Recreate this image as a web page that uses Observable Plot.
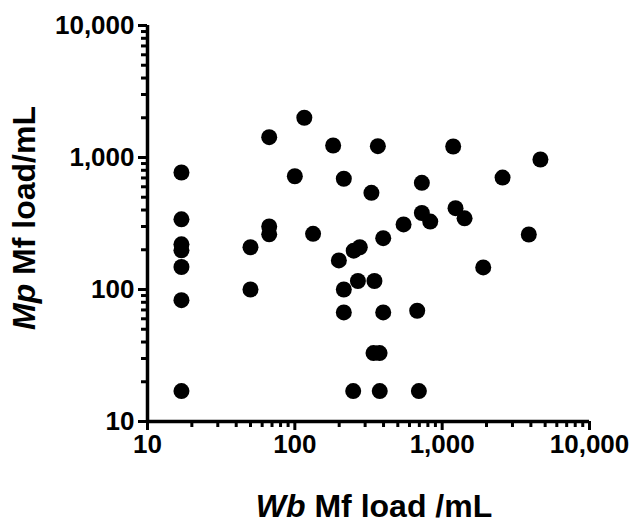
<!DOCTYPE html>
<html>
<head>
<meta charset="utf-8">
<script src="https://cdn.jsdelivr.net/npm/d3@7"></script>
<script src="https://cdn.jsdelivr.net/npm/@observablehq/plot@0.6"></script>
<style>
  html, body { margin: 0; padding: 0; background: #fff; }
  #chart { width: 630px; height: 529px; }
</style>
</head>
<body>
<div id="chart"></div>
<script>
// Wb Mf load/mL (x) and Mp Mf load/mL (y)
const wbLoad = [17, 17, 17, 17, 17, 17, 17,
  50, 50, 67, 67, 67, 100, 116, 133,
  182, 366, 1188, 4645, 215, 331, 728, 2570,
  728, 830, 1232, 1419, 547, 398, 3873,
  251, 276, 199, 1900, 268, 347, 215, 215,
  398, 677, 342, 376, 249, 377, 695];
const mpLoad = [770, 340, 220, 198, 148, 83, 17,
  209, 100, 1425, 300, 262, 721, 2000, 264,
  1233, 1218, 1212, 966, 690, 540, 643, 705,
  380, 327, 413, 346, 311, 245, 261,
  197, 209, 166, 147, 116, 116, 100, 67,
  67, 69, 33, 33, 17, 17, 17];

const majorTicks = [10, 100, 1000, 10000];
const minorMultipliers = [2, 3, 4, 5, 6, 7, 8, 9];
const minorTicks = majorTicks.slice(0, -1).flatMap(d => minorMultipliers.map(k => k * d));

const xTitle = [{text: "Wb", italic: true}, {text: " Mf load /mL", italic: false}];
const yTitle = [{text: "Mp", italic: true}, {text: " Mf load/mL", italic: false}];

const data = wbLoad.map((x, i) => ({x, y: mpLoad[i]}));

const font = "'Liberation Sans', Arial, Helvetica, sans-serif";

const plot = Plot.plot({
  width: 630,
  height: 529,
  marginLeft: 147,
  marginRight: 41,
  marginTop: 25,
  marginBottom: 108,
  style: {fontFamily: font, fontWeight: "bold", fontSize: "26px", color: "#000", background: "#fff", overflow: "visible"},
  x: {type: "log", domain: [10, 10000], axis: null},
  y: {type: "log", domain: [10, 10000], axis: null},
  marks: [
    Plot.axisX(minorTicks, {tickSize: 6, text: null, strokeWidth: 3, stroke: "#000", label: null}),
    Plot.axisY(minorTicks, {tickSize: 6, text: null, strokeWidth: 3, stroke: "#000", label: null}),
    Plot.axisX(majorTicks, {tickSize: 9, tickPadding: 4, tickFormat: d3.format(","), strokeWidth: 3, stroke: "#000", fill: "#000", fontSize: 26, fontWeight: "bold", fontFamily: font, label: null}),
    Plot.axisY(majorTicks, {tickSize: 9, tickPadding: 4, tickFormat: d3.format(","), strokeWidth: 3, stroke: "#000", fill: "#000", fontSize: 26, fontWeight: "bold", fontFamily: font, label: null}),
    Plot.ruleY([10], {stroke: "#000", strokeWidth: 3.5}),
    Plot.ruleX([10], {stroke: "#000", strokeWidth: 3.5}),
    Plot.dot(data, {x: "x", y: "y", r: 8, fill: "#000", stroke: null})
  ]
});

document.getElementById("chart").appendChild(plot);

// Axis titles with mixed italic parts
const svg = d3.select(plot);
const xs = plot.scale("x"), ys = plot.scale("y");
const cx = (xs.apply(10) + xs.apply(10000)) / 2 + 6;
const cy = (ys.apply(10) + ys.apply(10000)) / 2 - 5;

const xt = svg.append("text")
  .attr("x", cx).attr("y", 517)
  .attr("text-anchor", "middle")
  .attr("font-family", font).attr("font-weight", "bold").attr("font-size", 32)
  .attr("fill", "#000");
xTitle.forEach(p => xt.append("tspan").attr("font-style", p.italic ? "italic" : "normal").text(p.text));

const yt = svg.append("text")
  .attr("transform", `translate(35,${cy}) rotate(-90)`)
  .attr("text-anchor", "middle")
  .attr("font-family", font).attr("font-weight", "bold").attr("font-size", 32)
  .attr("fill", "#000");
yTitle.forEach(p => yt.append("tspan").attr("font-style", p.italic ? "italic" : "normal").text(p.text));
</script>
</body>
</html>
